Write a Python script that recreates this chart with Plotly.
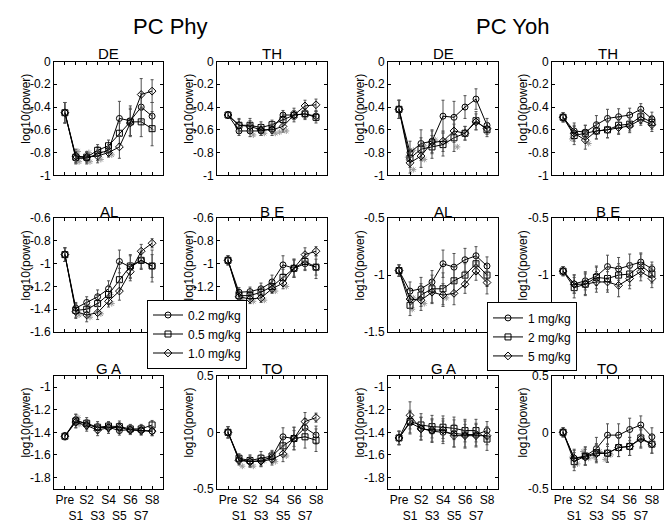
import plotly.graph_objects as go

# session labels (x axis)
sessions = ["Pre", "S1", "S2", "S3", "S4", "S5", "S6", "S7", "S8"]
session_ticks = ["Pre", "<br>S1", "S2", "<br>S3", "S4", "<br>S5", "S6", "<br>S7", "S8"]

phy_doses = ["0.2 mg/kg", "0.5 mg/kg", "1.0 mg/kg"]
yoh_doses = ["1 mg/kg", "2 mg/kg", "5 mg/kg"]

# y tick values used by the panels (BE lowest label sits under the legend)
ticks_de = [-1, -0.8, -0.6, -0.4, -0.2, 0]
ticks_al_phy = [-1.6, -1.4, -1.2, -1, -0.8, -0.6]
ticks_be_phy = [-1.4, -1.2, -1, -0.8, -0.6]
ticks_ga = [-1.8, -1.6, -1.4, -1.2, -1]
ticks_half = [-1.5, -1, -0.5]
ticks_be_yoh = [-1, -0.5]
ticks_to = [-0.5, 0, 0.5]

# ---- PC Phy : mean log10(power), one list per dose (low, mid, high)
phy_de = [[-0.45, -0.85, -0.85, -0.81, -0.78, -0.50, -0.52, -0.40, -0.48],
          [-0.45, -0.84, -0.84, -0.78, -0.74, -0.63, -0.53, -0.53, -0.59],
          [-0.45, -0.83, -0.84, -0.83, -0.80, -0.75, -0.54, -0.29, -0.26]]
phy_de_err = [[0.09, 0.05, 0.05, 0.06, 0.05, 0.15, 0.13, 0.12, 0.12],
              [0.09, 0.05, 0.04, 0.05, 0.05, 0.09, 0.12, 0.13, 0.15],
              [0.09, 0.06, 0.05, 0.06, 0.04, 0.10, 0.12, 0.14, 0.10]]

phy_th = [[-0.47, -0.61, -0.61, -0.61, -0.59, -0.47, -0.47, -0.46, -0.48],
          [-0.47, -0.56, -0.56, -0.58, -0.555, -0.51, -0.47, -0.46, -0.49],
          [-0.47, -0.56, -0.57, -0.60, -0.60, -0.57, -0.47, -0.39, -0.38]]
phy_th_err = [[0.03, 0.04, 0.05, 0.04, 0.04, 0.04, 0.04, 0.04, 0.04],
              [0.03, 0.06, 0.06, 0.05, 0.04, 0.05, 0.04, 0.05, 0.05],
              [0.03, 0.05, 0.05, 0.05, 0.05, 0.05, 0.06, 0.05, 0.05]]

phy_al = [[-0.92, -1.39, -1.34, -1.29, -1.22, -0.98, -1.03, -0.97, -1.02],
          [-0.92, -1.41, -1.40, -1.35, -1.27, -1.14, -1.02, -0.97, -1.02],
          [-0.92, -1.42, -1.45, -1.43, -1.33, -1.24, -1.07, -0.89, -0.82]]
phy_al_err = [[0.06, 0.05, 0.05, 0.06, 0.07, 0.10, 0.10, 0.07, 0.10],
              [0.06, 0.06, 0.06, 0.07, 0.08, 0.10, 0.10, 0.08, 0.14],
              [0.06, 0.06, 0.06, 0.06, 0.05, 0.08, 0.08, 0.06, 0.04]]

phy_be = [[-0.97, -1.25, -1.245, -1.22, -1.16, -1.01, -1.04, -1.00, -1.03],
          [-0.97, -1.28, -1.28, -1.25, -1.20, -1.12, -1.04, -0.98, -1.03],
          [-0.97, -1.29, -1.31, -1.30, -1.22, -1.17, -1.04, -0.92, -0.89]]
phy_be_err = [[0.04, 0.04, 0.04, 0.05, 0.06, 0.08, 0.07, 0.06, 0.07],
              [0.04, 0.04, 0.04, 0.04, 0.05, 0.07, 0.08, 0.07, 0.10],
              [0.04, 0.04, 0.04, 0.04, 0.04, 0.05, 0.08, 0.06, 0.04]]

phy_ga = [[-1.435, -1.29, -1.33, -1.36, -1.355, -1.385, -1.375, -1.38, -1.39],
          [-1.435, -1.30, -1.32, -1.355, -1.345, -1.35, -1.37, -1.37, -1.335],
          [-1.435, -1.31, -1.34, -1.38, -1.36, -1.355, -1.38, -1.385, -1.39]]
phy_ga_err = [[0.03, 0.05, 0.04, 0.04, 0.04, 0.04, 0.04, 0.04, 0.04],
              [0.03, 0.06, 0.05, 0.05, 0.04, 0.05, 0.04, 0.04, 0.04],
              [0.03, 0.05, 0.05, 0.05, 0.05, 0.04, 0.04, 0.04, 0.04]]

phy_to = [[0.0, -0.24, -0.26, -0.25, -0.22, -0.04, -0.055, 0.04, -0.025],
          [0.0, -0.23, -0.25, -0.23, -0.21, -0.12, -0.055, -0.04, -0.07],
          [0.0, -0.25, -0.26, -0.255, -0.24, -0.19, -0.055, 0.095, 0.13]]
phy_to_err = [[0.05, 0.04, 0.05, 0.05, 0.05, 0.08, 0.07, 0.08, 0.08],
              [0.05, 0.04, 0.05, 0.06, 0.05, 0.08, 0.10, 0.10, 0.10],
              [0.05, 0.04, 0.04, 0.05, 0.05, 0.07, 0.10, 0.08, 0.04]]

# ---- PC Yoh
yoh_de = [[-0.42, -0.80, -0.72, -0.70, -0.48, -0.49, -0.40, -0.33, -0.56],
          [-0.42, -0.85, -0.77, -0.75, -0.73, -0.67, -0.63, -0.52, -0.60],
          [-0.42, -0.89, -0.83, -0.71, -0.70, -0.61, -0.63, -0.53, -0.59]]
yoh_de_err = [[0.08, 0.10, 0.12, 0.10, 0.14, 0.14, 0.10, 0.09, 0.06],
              [0.08, 0.08, 0.10, 0.10, 0.10, 0.12, 0.06, 0.08, 0.06],
              [0.08, 0.09, 0.10, 0.10, 0.09, 0.10, 0.06, 0.07, 0.05]]

yoh_th = [[-0.49, -0.61, -0.62, -0.555, -0.50, -0.485, -0.47, -0.42, -0.505],
          [-0.49, -0.65, -0.63, -0.61, -0.60, -0.56, -0.55, -0.485, -0.535],
          [-0.49, -0.63, -0.69, -0.61, -0.60, -0.58, -0.565, -0.51, -0.555]]
yoh_th_err = [[0.04, 0.07, 0.06, 0.08, 0.08, 0.07, 0.06, 0.05, 0.06],
              [0.04, 0.08, 0.07, 0.07, 0.07, 0.07, 0.06, 0.06, 0.06],
              [0.04, 0.07, 0.08, 0.07, 0.07, 0.06, 0.06, 0.05, 0.06]]

yoh_al = [[-0.96, -1.14, -1.12, -1.06, -0.90, -0.93, -0.865, -0.83, -0.92],
          [-0.96, -1.265, -1.175, -1.12, -1.12, -1.05, -1.00, -0.90, -1.00],
          [-0.96, -1.21, -1.22, -1.15, -1.175, -1.16, -1.08, -0.965, -1.065]]
yoh_al_err = [[0.05, 0.08, 0.10, 0.10, 0.12, 0.12, 0.10, 0.08, 0.08],
              [0.05, 0.09, 0.10, 0.12, 0.14, 0.12, 0.10, 0.09, 0.10],
              [0.05, 0.08, 0.09, 0.10, 0.10, 0.10, 0.08, 0.08, 0.10]]

yoh_be = [[-0.965, -1.077, -1.05, -1.01, -0.925, -0.945, -0.915, -0.885, -0.945],
          [-0.965, -1.11, -1.08, -1.02, -1.03, -1.00, -0.99, -0.915, -0.99],
          [-0.965, -1.08, -1.08, -1.06, -1.06, -1.09, -1.03, -0.97, -1.03]]
yoh_be_err = [[0.04, 0.08, 0.08, 0.08, 0.10, 0.10, 0.10, 0.08, 0.06],
              [0.04, 0.09, 0.10, 0.10, 0.10, 0.10, 0.10, 0.10, 0.08],
              [0.04, 0.08, 0.09, 0.09, 0.09, 0.10, 0.09, 0.08, 0.08]]

yoh_ga = [[-1.45, -1.315, -1.365, -1.39, -1.40, -1.41, -1.42, -1.42, -1.385],
          [-1.45, -1.305, -1.335, -1.35, -1.355, -1.365, -1.385, -1.385, -1.46],
          [-1.45, -1.25, -1.37, -1.38, -1.38, -1.43, -1.43, -1.43, -1.43]]
yoh_ga_err = [[0.06, 0.10, 0.10, 0.10, 0.10, 0.12, 0.12, 0.10, 0.08],
              [0.06, 0.10, 0.10, 0.10, 0.10, 0.10, 0.10, 0.10, 0.10],
              [0.06, 0.12, 0.10, 0.10, 0.10, 0.10, 0.10, 0.10, 0.08]]

yoh_to = [[0.0, -0.23, -0.21, -0.145, -0.025, -0.025, 0.025, 0.065, -0.04],
          [0.0, -0.26, -0.21, -0.18, -0.185, -0.135, -0.125, -0.05, -0.105],
          [0.0, -0.23, -0.22, -0.19, -0.185, -0.135, -0.125, -0.06, -0.105]]
yoh_to_err = [[0.04, 0.08, 0.08, 0.10, 0.10, 0.10, 0.10, 0.08, 0.08],
              [0.04, 0.08, 0.08, 0.08, 0.08, 0.08, 0.08, 0.08, 0.08],
              [0.04, 0.07, 0.07, 0.08, 0.08, 0.08, 0.08, 0.08, 0.08]]

# significance asterisks (session position, value)
phy_de_ast = ([1.3, 1.2, 2.3, 2.2, 3.3, 3.2, 4.3], [-0.88, -0.79, -0.88, -0.80, -0.86, -0.79, -0.82])
phy_th_ast = ([2.3, 3.3, 4.3, 4.7, 5.3], [-0.645, -0.63, -0.63, -0.62, -0.61])
phy_al_ast = ([1.3, 2.3, 2.2, 3.3, 4.3, 4.2], [-1.45, -1.47, -1.38, -1.44, -1.35, -1.27])
phy_be_ast = ([1.3, 2.3, 3.3, 4.3, 5.3], [-1.32, -1.33, -1.32, -1.24, -1.20])
phy_ga_ast = ([1.3, 1.2], [-1.33, -1.27])
phy_to_ast = ([1.3, 2.3, 3.3, 4.3, 5.3], [-0.30, -0.30, -0.25, -0.26, -0.21])
yoh_de_ast = ([0.8, 1.3, 1.3, 2.3, 2.3, 3.3, 4.3, 5.3], [-0.84, -0.78, -0.95, -0.74, -0.86, -0.69, -0.70, -0.75])
yoh_th_ast = ([0.8, 2.3], [-0.68, -0.72])
yoh_al_ast = ([1.3, 1.2, 2.3, 4.3], [-1.20, -1.30, -1.25, -1.20])
yoh_be_ast = ([], [])
yoh_ga_ast = ([], [])
yoh_to_ast = ([0.8, 1.3, 1.8, 2.3, 2.8, 3.3, 3.8, 4.3], [-0.22, -0.28, -0.17, -0.23, -0.22, -0.17, -0.24, -0.20])

FONT = "Liberation Sans"
W, H = 672, 523
cols_px = [(54, 163), (217, 327), (388, 498), (552, 663)]
rows_px = [(56, 173), (217, 334), (379, 495)]
symbols = ["circle-open", "square-open", "diamond-open"]

# (name, means, errors, asterisks, row, col, y range, y ticks, legend doses)
panels = [
    ("DE", phy_de, phy_de_err, phy_de_ast, 0, 0, (-1, 0), ticks_de, phy_doses),
    ("TH", phy_th, phy_th_err, phy_th_ast, 0, 1, (-1, 0), ticks_de, phy_doses),
    ("AL", phy_al, phy_al_err, phy_al_ast, 1, 0, (-1.6, -0.6), ticks_al_phy, phy_doses),
    ("B E", phy_be, phy_be_err, phy_be_ast, 1, 1, (-1.6, -0.6), ticks_be_phy, phy_doses),
    ("G A", phy_ga, phy_ga_err, phy_ga_ast, 2, 0, (-1.9, -0.9), ticks_ga, phy_doses),
    ("TO", phy_to, phy_to_err, phy_to_ast, 2, 1, (-0.5, 0.5), ticks_to, phy_doses),
    ("DE", yoh_de, yoh_de_err, yoh_de_ast, 0, 2, (-1, 0), ticks_de, yoh_doses),
    ("TH", yoh_th, yoh_th_err, yoh_th_ast, 0, 3, (-1, 0), ticks_de, yoh_doses),
    ("AL", yoh_al, yoh_al_err, yoh_al_ast, 1, 2, (-1.5, -0.5), ticks_half, yoh_doses),
    ("B E", yoh_be, yoh_be_err, yoh_be_ast, 1, 3, (-1.5, -0.5), ticks_be_yoh, yoh_doses),
    ("G A", yoh_ga, yoh_ga_err, yoh_ga_ast, 2, 2, (-1.9, -0.9), ticks_ga, yoh_doses),
    ("TO", yoh_to, yoh_to_err, yoh_to_ast, 2, 3, (-0.5, 0.5), ticks_to, yoh_doses),
]

fig = go.Figure()
annotations = []
x_idx = list(range(len(sessions)))

for i, (name, means, errs, ast, r, c, yr, yticks, doses) in enumerate(panels):
    n = "" if i == 0 else str(i + 1)
    xa, ya = "x" + n, "y" + n
    x0, x1 = cols_px[c]
    y0, y1 = rows_px[r]

    # asterisks first so lines sit on top
    if ast[0]:
        fig.add_trace(go.Scatter(x=ast[0], y=ast[1], mode="markers", xaxis=xa, yaxis=ya,
                                 marker=dict(symbol="asterisk-open", size=5, color="#9a9a9a",
                                             line=dict(width=1, color="#9a9a9a")),
                                 showlegend=False, hoverinfo="skip"))

    for k in range(3):
        show = (i == 0 or i == 6)
        fig.add_trace(go.Scatter(
            x=x_idx, y=means[k], mode="lines+markers", xaxis=xa, yaxis=ya,
            name=doses[k], legend="legend" if i < 6 else "legend2",
            showlegend=show,
            line=dict(color="black", width=1),
            marker=dict(symbol=symbols[k], size=6, color="black", line=dict(width=1)),
            error_y=dict(type="data", array=errs[k], color="#505050", thickness=1, width=1.5),
        ))

    ytext = [f"{t:g}" for t in yticks]

    fig.layout["xaxis" + n] = dict(
        domain=[x0 / W, x1 / W], anchor=ya, range=[-1, 9],
        tickvals=x_idx, ticktext=session_ticks, showticklabels=(r == 2), tickangle=0,
        ticks="inside", ticklen=3, tickcolor="black", showline=True, linecolor="black",
        linewidth=1, mirror="ticks", showgrid=False, zeroline=False,
        tickfont=dict(family=FONT, size=12, color="black"))
    fig.layout["yaxis" + n] = dict(
        domain=[1 - y1 / H, 1 - y0 / H], anchor=xa, range=list(yr),
        tickvals=yticks, ticktext=ytext,
        ticks="inside", ticklen=3, tickcolor="black", showline=True, linecolor="black",
        linewidth=1, mirror="ticks", showgrid=False, zeroline=False,
        tickfont=dict(family=FONT, size=12, color="black"))

    title_y = [48, 210, 371][r]
    annotations.append(dict(text=name, x=(x0 + x1) / 2 / W, y=1 - title_y / H, xref="paper",
                            yref="paper", showarrow=False, xanchor="center", yanchor="middle",
                            font=dict(family=FONT, size=15, color="black")))
    lab_x = [26, 189, 360, 523][c]
    annotations.append(dict(text="log10(power)", x=lab_x / W, y=1 - ((y0 + y1) / 2 - 10) / H,
                            xref="paper", yref="paper", showarrow=False, textangle=-90,
                            xanchor="center", yanchor="middle",
                            font=dict(family=FONT, size=12, color="black")))

annotations.append(dict(text="PC Phy", x=170 / W, y=1 - 20 / H, xref="paper", yref="paper",
                        showarrow=False, xanchor="center", yanchor="middle",
                        font=dict(family=FONT, size=22, color="black")))
annotations.append(dict(text="PC Yoh", x=512 / W, y=1 - 20 / H, xref="paper", yref="paper",
                        showarrow=False, xanchor="center", yanchor="middle",
                        font=dict(family=FONT, size=22, color="black")))

legend_style = dict(xanchor="left", yanchor="middle", bgcolor="white", bordercolor="black",
                    borderwidth=1, font=dict(family=FONT, size=12, color="black"),
                    itemwidth=30, tracegroupgap=0)

fig.update_layout(
    width=W, height=H, margin=dict(l=0, r=0, t=0, b=0),
    paper_bgcolor="white", plot_bgcolor="white",
    annotations=annotations,
    legend=dict(x=147 / W, y=1 - 336 / H, **legend_style),
    legend2=dict(x=487 / W, y=1 - 339 / H, **legend_style),
    font=dict(family=FONT),
)

fig.write_html("out.html", config={"displayModeBar": False},
               post_script="document.body.style.margin = '0';")
